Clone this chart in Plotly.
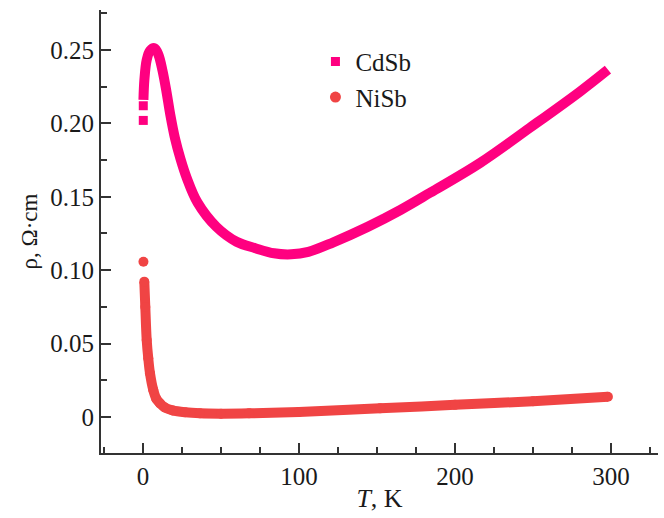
import plotly.graph_objects as go

# ---- data ----
cdsb_T = [0.3, 0.9, 2.4, 4.5, 7.5, 10.0, 12.5, 15.0, 17.5, 20.5, 24.0, 28.0, 35.0, 47.0, 60.0,
          72.0, 84.0, 95.0, 106.0, 122.0, 144.0, 165.0, 184.0, 216.0, 248.0, 280.0, 298.0]
cdsb_rho = [0.216, 0.2296, 0.2432, 0.2495, 0.2512, 0.2465, 0.236, 0.222, 0.206, 0.190, 0.176,
            0.163, 0.146, 0.1296, 0.1194, 0.1150, 0.1115, 0.1108, 0.1125, 0.119, 0.1295, 0.141,
            0.1527, 0.173, 0.197, 0.2216, 0.2366]
cdsb_iso_T = [0.2, 0.2]
cdsb_iso_rho = [0.202, 0.212]

nisb_T = [0.85, 1.5, 2.4, 3.4, 4.5, 6.6, 8.5, 10.9, 14.0, 19.0, 27.0, 36.5, 50.0, 68.0, 100.0,
          152.0, 200.0, 250.0, 298.0]
nisb_rho = [0.0922, 0.075, 0.0524, 0.040, 0.0298, 0.0184, 0.0125, 0.0093, 0.0065, 0.0045, 0.0032,
            0.0025, 0.0023, 0.0025, 0.0035, 0.0059, 0.0083, 0.0108, 0.0138]
nisb_iso_T = [0.3]
nisb_iso_rho = [0.1057]

y_tickvals = [0, 0.05, 0.10, 0.15, 0.20, 0.25]
y_ticktext = ["0", "0.05", "0.10", "0.15", "0.20", "0.25"]
x_tickvals = [0, 100, 200, 300]
x_ticktext = ["0", "100", "200", "300"]

PINK = "#ff0080"
RED = "#f04444"
FONT = "Liberation Serif"
TXT = "#1a1a1a"

fig = go.Figure()
fig.add_trace(go.Scatter(x=cdsb_T, y=cdsb_rho, mode="lines", line=dict(color=PINK, width=10, shape="spline"),
                         showlegend=False, hoverinfo="skip"))
fig.add_trace(go.Scatter(x=cdsb_iso_T, y=cdsb_iso_rho, mode="markers",
                         marker=dict(symbol="square", size=9, color=PINK), showlegend=False))
fig.add_trace(go.Scatter(x=nisb_T, y=nisb_rho, mode="lines+markers", line=dict(color=RED, width=10, shape="spline"),
                         marker=dict(symbol="circle", size=10, color=RED, line=dict(width=0)),
                         showlegend=False, hoverinfo="skip"))
fig.add_trace(go.Scatter(x=nisb_iso_T, y=nisb_iso_rho, mode="markers",
                         marker=dict(symbol="circle", size=10, color=RED), showlegend=False))
# legend entries
fig.add_trace(go.Scatter(x=[None], y=[None], mode="markers", name="CdSb",
                         marker=dict(symbol="square", size=9, color=PINK)))
fig.add_trace(go.Scatter(x=[None], y=[None], mode="markers", name="NiSb",
                         marker=dict(symbol="circle", size=11, color=RED)))

axis_common = dict(showline=True, linecolor="#333333", linewidth=2, ticks="inside", ticklen=10,
                   tickwidth=1.5, tickcolor="#333333", showgrid=False, zeroline=False,
                   tickfont=dict(family=FONT, size=25, color=TXT), mirror=False)

fig.update_layout(
    width=664, height=518,
    margin=dict(l=101, r=6, t=10, b=65),
    paper_bgcolor="white", plot_bgcolor="white",
    xaxis=dict(range=[-26.9, 330.1], tickvals=x_tickvals, ticktext=x_ticktext,
               minor=dict(dtick=25, tick0=0, ticks="inside", ticklen=6, tickcolor="#333333", tickwidth=1.5),
               title=dict(text="<i>T</i>, K", font=dict(family=FONT, size=26, color=TXT), standoff=0),
               **axis_common),
    yaxis=dict(range=[-0.0245, 0.2772], tickvals=y_tickvals, ticktext=y_ticktext,
               minor=dict(dtick=0.025, tick0=0, ticks="inside", ticklen=6, tickcolor="#333333", tickwidth=1.5),
               title=dict(text="ρ, Ω·cm", font=dict(family=FONT, size=23, color=TXT), standoff=6),
               **axis_common),
    legend=dict(x=0.385, y=0.935, xanchor="left", yanchor="top", bgcolor="rgba(0,0,0,0)",
                font=dict(family=FONT, size=25, color=TXT), itemsizing="trace"),
    showlegend=True,
)

fig.write_html("out.html")
